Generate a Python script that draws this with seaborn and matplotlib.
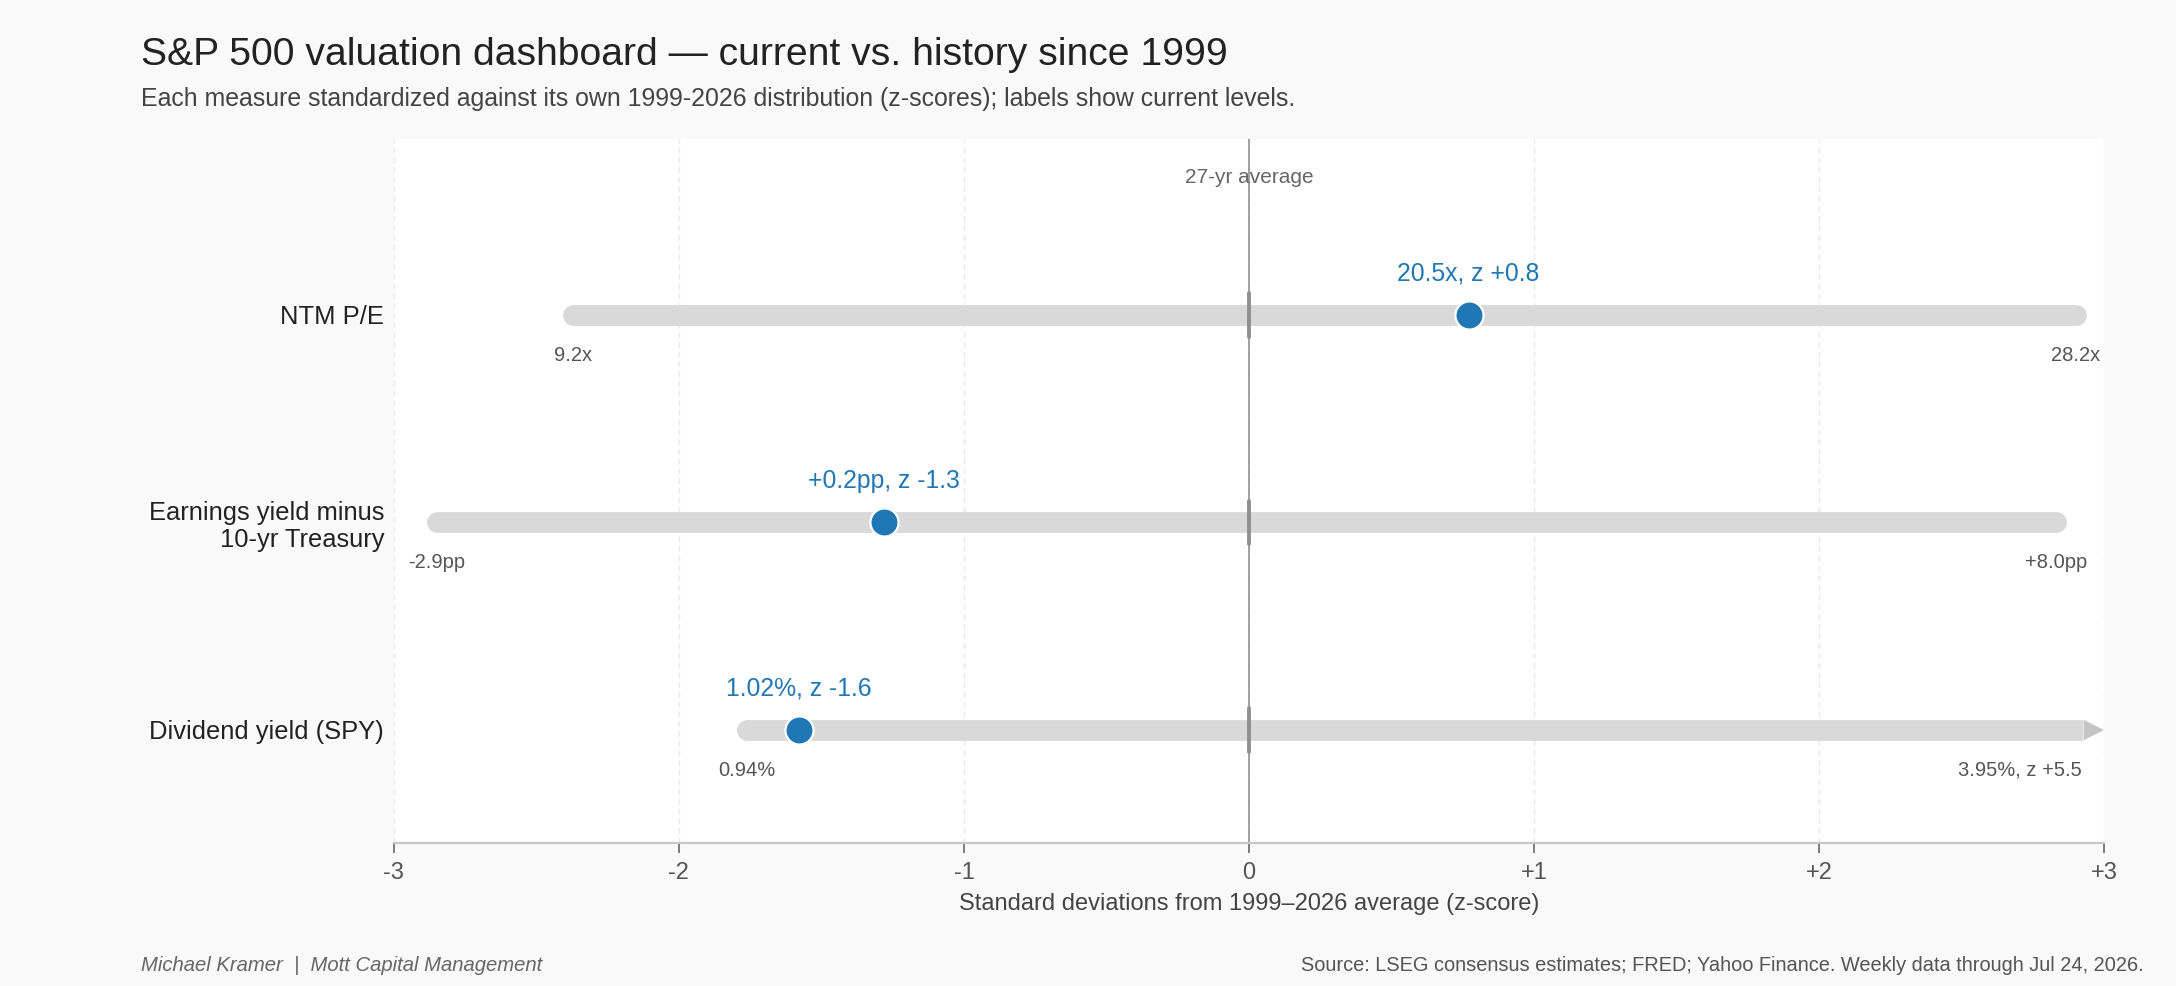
import matplotlib
matplotlib.use("Agg")
import matplotlib.pyplot as plt
import seaborn as sns
import pandas as pd

# data
measures = ["NTM P/E", "Earnings yield minus\n10-yr Treasury", "Dividend yield (SPY)"]
z_min = [-2.37, -2.85, -1.76]
z_max = [2.90, 2.83, 5.5]
z_now = [0.77, -1.28, -1.58]
min_labels = ["9.2x", "-2.9pp", "0.94%"]
max_labels = ["28.2x", "+8.0pp", "3.95%, z +5.5"]
now_labels = ["20.5x, z +0.8", "+0.2pp, z -1.3", "1.02%, z -1.6"]
xticks = [-3, -2, -1, 0, 1, 2, 3]
xtick_labels = ["-3", "-2", "-1", "0", "+1", "+2", "+3"]

BLUE = "#1f77b4"
BAR = "#d9d9d9"
BG = "#f9f9f9"

sns.set_theme(style="white")
plt.rcParams["font.family"] = ["Liberation Sans", "DejaVu Sans"]

fig = plt.figure(figsize=(21.76, 9.86), dpi=100, facecolor=BG)
ax = fig.add_axes([0.181, 0.145, 0.786, 0.714])
ax.set_facecolor("white")

rows = list(range(len(measures)))
df = pd.DataFrame({"row": rows, "z": z_now})

# 27-yr average line
ax.axvline(0, color="#999999", lw=1.3, zorder=1)

for y, lo, hi in zip(rows, z_min, z_max):
    if hi > 3:
        # clipped range: butt end + arrow head at the axis edge
        end = 3 - 0.075
        ax.plot([lo, end], [y, y], color=BAR, lw=15, solid_capstyle="butt", zorder=2)
        ax.plot([lo], [y], marker="o", ms=15, color=BAR, mew=0, zorder=2)
        ax.plot([3 - 0.037], [y], marker=">", ms=15, color="#c4c4c4", mew=0,
                zorder=2, clip_on=False)
    else:
        ax.plot([lo, hi], [y, y], color=BAR, lw=15, solid_capstyle="round", zorder=2)
    ax.plot([0, 0], [y - 0.105, y + 0.105], color="#8f8f8f", lw=2.8, zorder=3)

sns.scatterplot(data=df, x="z", y="row", ax=ax, s=410, color=BLUE,
                edgecolor="white", linewidth=1.6, zorder=5, legend=False)

for y, lo, hi, lmin, lmax, lnow, zn in zip(rows, z_min, z_max, min_labels,
                                           max_labels, now_labels, z_now):
    ax.annotate(lmin, (lo, y), xytext=(0, -29), textcoords="offset points",
                ha="center", va="center", fontsize=14.5, color="#555555")
    if hi > 3:
        ax.annotate(lmax, (2.92, y), xytext=(0, -29), textcoords="offset points",
                    ha="right", va="center", fontsize=14.5, color="#555555")
    else:
        ax.annotate(lmax, (hi, y), xytext=(0, -29), textcoords="offset points",
                    ha="center", va="center", fontsize=14.5, color="#555555")
    ax.annotate(lnow, (zn, y), xytext=(0, 30), textcoords="offset points",
                ha="center", va="center", fontsize=17.8, color=BLUE)

ax.text(0, 0.946, "27-yr average", transform=ax.get_xaxis_transform(),
        ha="center", va="center", fontsize=15, color="#666666")

ax.set_xlim(-3, 3)
ax.set_ylim(2.545, -0.848)
ax.set_yticks(rows)
ax.set_yticklabels(measures, fontsize=18.4, color="#222222", linespacing=1.15)
ax.tick_params(axis="y", length=0, pad=7)
ax.set_xticks(xticks)
ax.set_xticklabels(xtick_labels, fontsize=17, color="#555555")
ax.tick_params(axis="x", length=7, width=1.2, color="#666666", pad=7, bottom=True)
ax.grid(axis="x", color="#e8e8e8", lw=1, ls=(0, (4, 3)))
ax.set_axisbelow(True)
for s in ["top", "left", "right"]:
    ax.spines[s].set_visible(False)
ax.spines["bottom"].set_color("#c8c8c8")
ax.spines["bottom"].set_linewidth(1.6)
ax.set_xlabel("Standard deviations from 1999\u20132026 average (z-score)",
              fontsize=17, color="#444444", labelpad=6)
ax.set_ylabel("")

fig.text(0.065, 0.944, "S&P 500 valuation dashboard \u2014 current vs. history since 1999",
         fontsize=28.2, color="#222222", va="center", ha="left")
fig.text(0.065, 0.900, "Each measure standardized against its own 1999-2026 distribution "
         "(z-scores); labels show current levels.",
         fontsize=17.9, color="#444444", va="center", ha="left")
fig.text(0.065, 0.021, "Michael Kramer  |  Mott Capital Management", fontsize=14.6,
         style="italic", color="#666666", va="center", ha="left")
fig.text(0.985, 0.021, "Source: LSEG consensus estimates; FRED; Yahoo Finance. "
         "Weekly data through Jul 24, 2026.", fontsize=14.4, color="#555555",
         va="center", ha="right")

fig.savefig("out.png", dpi=100, facecolor=BG)
